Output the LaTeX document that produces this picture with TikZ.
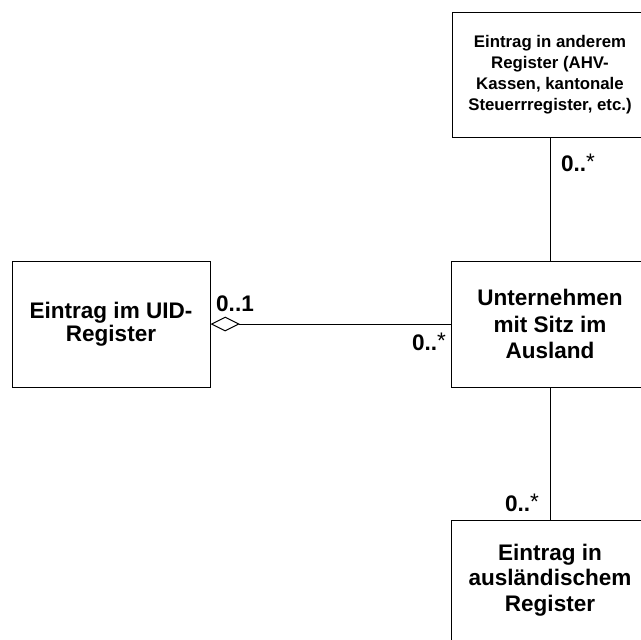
\documentclass[tikz,border=0pt]{standalone}
\usepackage{fontspec}
\setmainfont{Liberation Sans}
\usetikzlibrary{arrows.meta}
\newcommand{\multstar}{\raisebox{1pt}{\mdseries *}}

\begin{document}
\begin{tikzpicture}[x=0.75pt,y=0.75pt,yscale=-1,xscale=1,
    classbox/.style={draw, line width=0.75pt, align=center, inner sep=0pt,
      minimum width=148.5pt, font=\bfseries\fontsize{16.9}{19.5}\selectfont},
    mult/.style={inner sep=0pt, font=\bfseries\fontsize{16.9}{19.5}\selectfont},
    assoc/.style={line width=0.75pt}]
    \useasboundingbox (0,0) rectangle (641,639);
    \clip (0,0) rectangle (641,639);
    %Shape: Rectangle [id:uidreg]
    \node [classbox, minimum height=94.5pt, font=\bfseries\fontsize{16.9}{17}\selectfont] (uidreg) at (111,324) {Eintrag im UID-\\Register};
    %Shape: Rectangle [id:unternehmen]
    \node [classbox, minimum height=94.5pt, font=\bfseries\fontsize{16.9}{20}\selectfont] (unternehmen) at (550,324) {Unternehmen\\mit Sitz im\\Ausland};
    %Shape: Rectangle [id:anderesreg]
    \node [classbox, minimum width=147pt, minimum height=93.75pt, font=\bfseries\fontsize{12.6}{15.75}\selectfont] (anderesreg) at (550,74.5) {Eintrag in anderem\\Register (AHV-\\Kassen, kantonale\\Steuerrregister, etc.)};
    %Shape: Rectangle [id:auslreg]
    \node [classbox, minimum height=90pt, font=\bfseries\fontsize{16.9}{19.3}\selectfont] (auslreg) at (550,580) {Eintrag in\\ausländischem\\Register};
    %Straight Lines [id:aggregation]
    \draw [assoc, {Diamond[open,length=22pt,width=11pt]}-] (uidreg.east) -- (unternehmen.west) ;
    %Straight Lines [id:oben]
    \draw [assoc] (anderesreg.south) -- (unternehmen.north) ;
    %Straight Lines [id:unten]
    \draw [assoc] (unternehmen.south) -- (auslreg.north) ;
    % Text Node
    \node [mult] (m01) at (235,304) {0..1};
    % Text Node
    \node [mult] (mlinks) at (429,342) {0..\multstar};
    % Text Node
    \node [mult] (moben) at (578,163) {0..\multstar};
    % Text Node
    \node [mult] (munten) at (522,503) {0..\multstar};
\end{tikzpicture}
\end{document}
